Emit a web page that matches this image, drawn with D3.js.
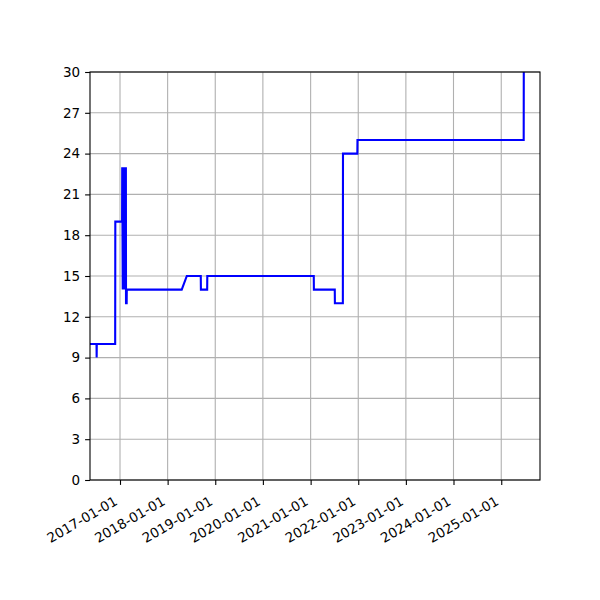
<!DOCTYPE html>
<html>
<head>
<meta charset="UTF-8">
<script src="https://d3js.org/d3.v7.min.js"></script>
<style>
    body { margin: 0; background: #fff; }
    text { font-family: "DejaVu Sans", sans-serif; font-size: 13.5px; fill: #000; }
</style>
</head>
<body>
<svg width="600" height="600"></svg>
<script>
    // values
    const dates = [
        "2016-05-16", "2016-07-05", "2016-07-06", "2016-07-07", "2016-11-25", "2016-11-26",
        "2017-01-17", "2017-01-18", "2017-01-22", "2017-01-25", "2017-01-29", "2017-02-01",
        "2017-02-05", "2017-02-08", "2017-02-12", "2017-02-15", "2017-02-16", "2017-02-21",
        "2017-02-22", "2018-04-19", "2018-05-28", "2018-09-12", "2018-09-13",
        "2018-10-31", "2018-11-01", "2021-01-25", "2021-01-26", "2021-07-05", "2021-07-06",
        "2021-09-05", "2021-09-06", "2021-12-25", "2021-12-26", "2025-06-22", "2025-06-23",
        "2025-10-25"
    ];
    const values = [
        10, 10, 9, 10, 10, 19,
        19, 23, 14, 23, 14, 23,
        14, 23, 14, 23, 13, 13,
        14, 14, 15, 15, 14,
        14, 15, 15, 14, 14, 13,
        13, 24, 24, 25, 25, 32,
        32
    ];
    const yTicks = [0, 3, 6, 9, 12, 15, 18, 21, 24, 27, 30];
    const xTickYears = ["2017-01-01", "2018-01-01", "2019-01-01", "2020-01-01", "2021-01-01",
        "2022-01-01", "2023-01-01", "2024-01-01", "2025-01-01"];

    const parse = d3.utcParse("%Y-%m-%d");
    const data = dates.map((d, i) => ({date: parse(d), value: values[i]}));

    const svg = d3.select("svg");
    const margin = {top: 72, right: 60, bottom: 120, left: 90};
    const width = 600 - margin.left - margin.right;
    const height = 600 - margin.top - margin.bottom;

    const x = d3.scaleUtc()
        .domain([parse("2016-05-16"), parse("2025-10-25")])
        .range([0, width]);
    const y = d3.scaleLinear().domain([0, 30]).range([height, 0]);

    const g = svg.append("g").attr("transform", `translate(${margin.left},${margin.top})`);

    g.append("defs").append("clipPath").attr("id", "clip")
        .append("rect").attr("width", width).attr("height", height);

    // grid
    g.append("g").selectAll("line").data(xTickYears).enter().append("line")
        .attr("x1", d => x(parse(d))).attr("x2", d => x(parse(d)))
        .attr("y1", 0).attr("y2", height)
        .attr("stroke", "#b0b0b0").attr("stroke-width", 1.1);
    g.append("g").selectAll("line").data(yTicks).enter().append("line")
        .attr("x1", 0).attr("x2", width)
        .attr("y1", d => y(d)).attr("y2", d => y(d))
        .attr("stroke", "#b0b0b0").attr("stroke-width", 1.1);

    // line
    const line = d3.line().x(d => x(d.date)).y(d => y(d.value));
    g.append("path")
        .datum(data)
        .attr("clip-path", "url(#clip)")
        .attr("fill", "none")
        .attr("stroke", "#0000ff")
        .attr("stroke-width", 2.1)
        .attr("stroke-linejoin", "miter")
        .attr("d", line);

    // axes
    const xAxis = g.append("g")
        .attr("transform", `translate(0,${height})`)
        .call(d3.axisBottom(x).tickValues(xTickYears.map(parse))
            .tickFormat(d3.utcFormat("%Y-%m-%d")).tickSizeInner(4.9).tickSizeOuter(0).tickPadding(4.9));
    xAxis.selectAll("text")
        .attr("text-anchor", "end")
        .attr("dy", null)
        .attr("y", 0)
        .attr("transform", "translate(-2,24) rotate(-30)");

    const yAxis = g.append("g")
        .call(d3.axisLeft(y).tickValues(yTicks).tickSizeInner(4.9).tickSizeOuter(0).tickPadding(4.9));

    [xAxis, yAxis].forEach(a => {
        a.select(".domain").remove();
        a.selectAll("line").attr("stroke", "#000").attr("stroke-width", 1.1);
        a.selectAll("text").style("font-family", "'DejaVu Sans', sans-serif").style("font-size", "13.5px");
    });

    // frame
    g.append("rect").attr("width", width).attr("height", height)
        .attr("fill", "none").attr("stroke", "#000").attr("stroke-width", 1.1);
</script>
</body>
</html>
